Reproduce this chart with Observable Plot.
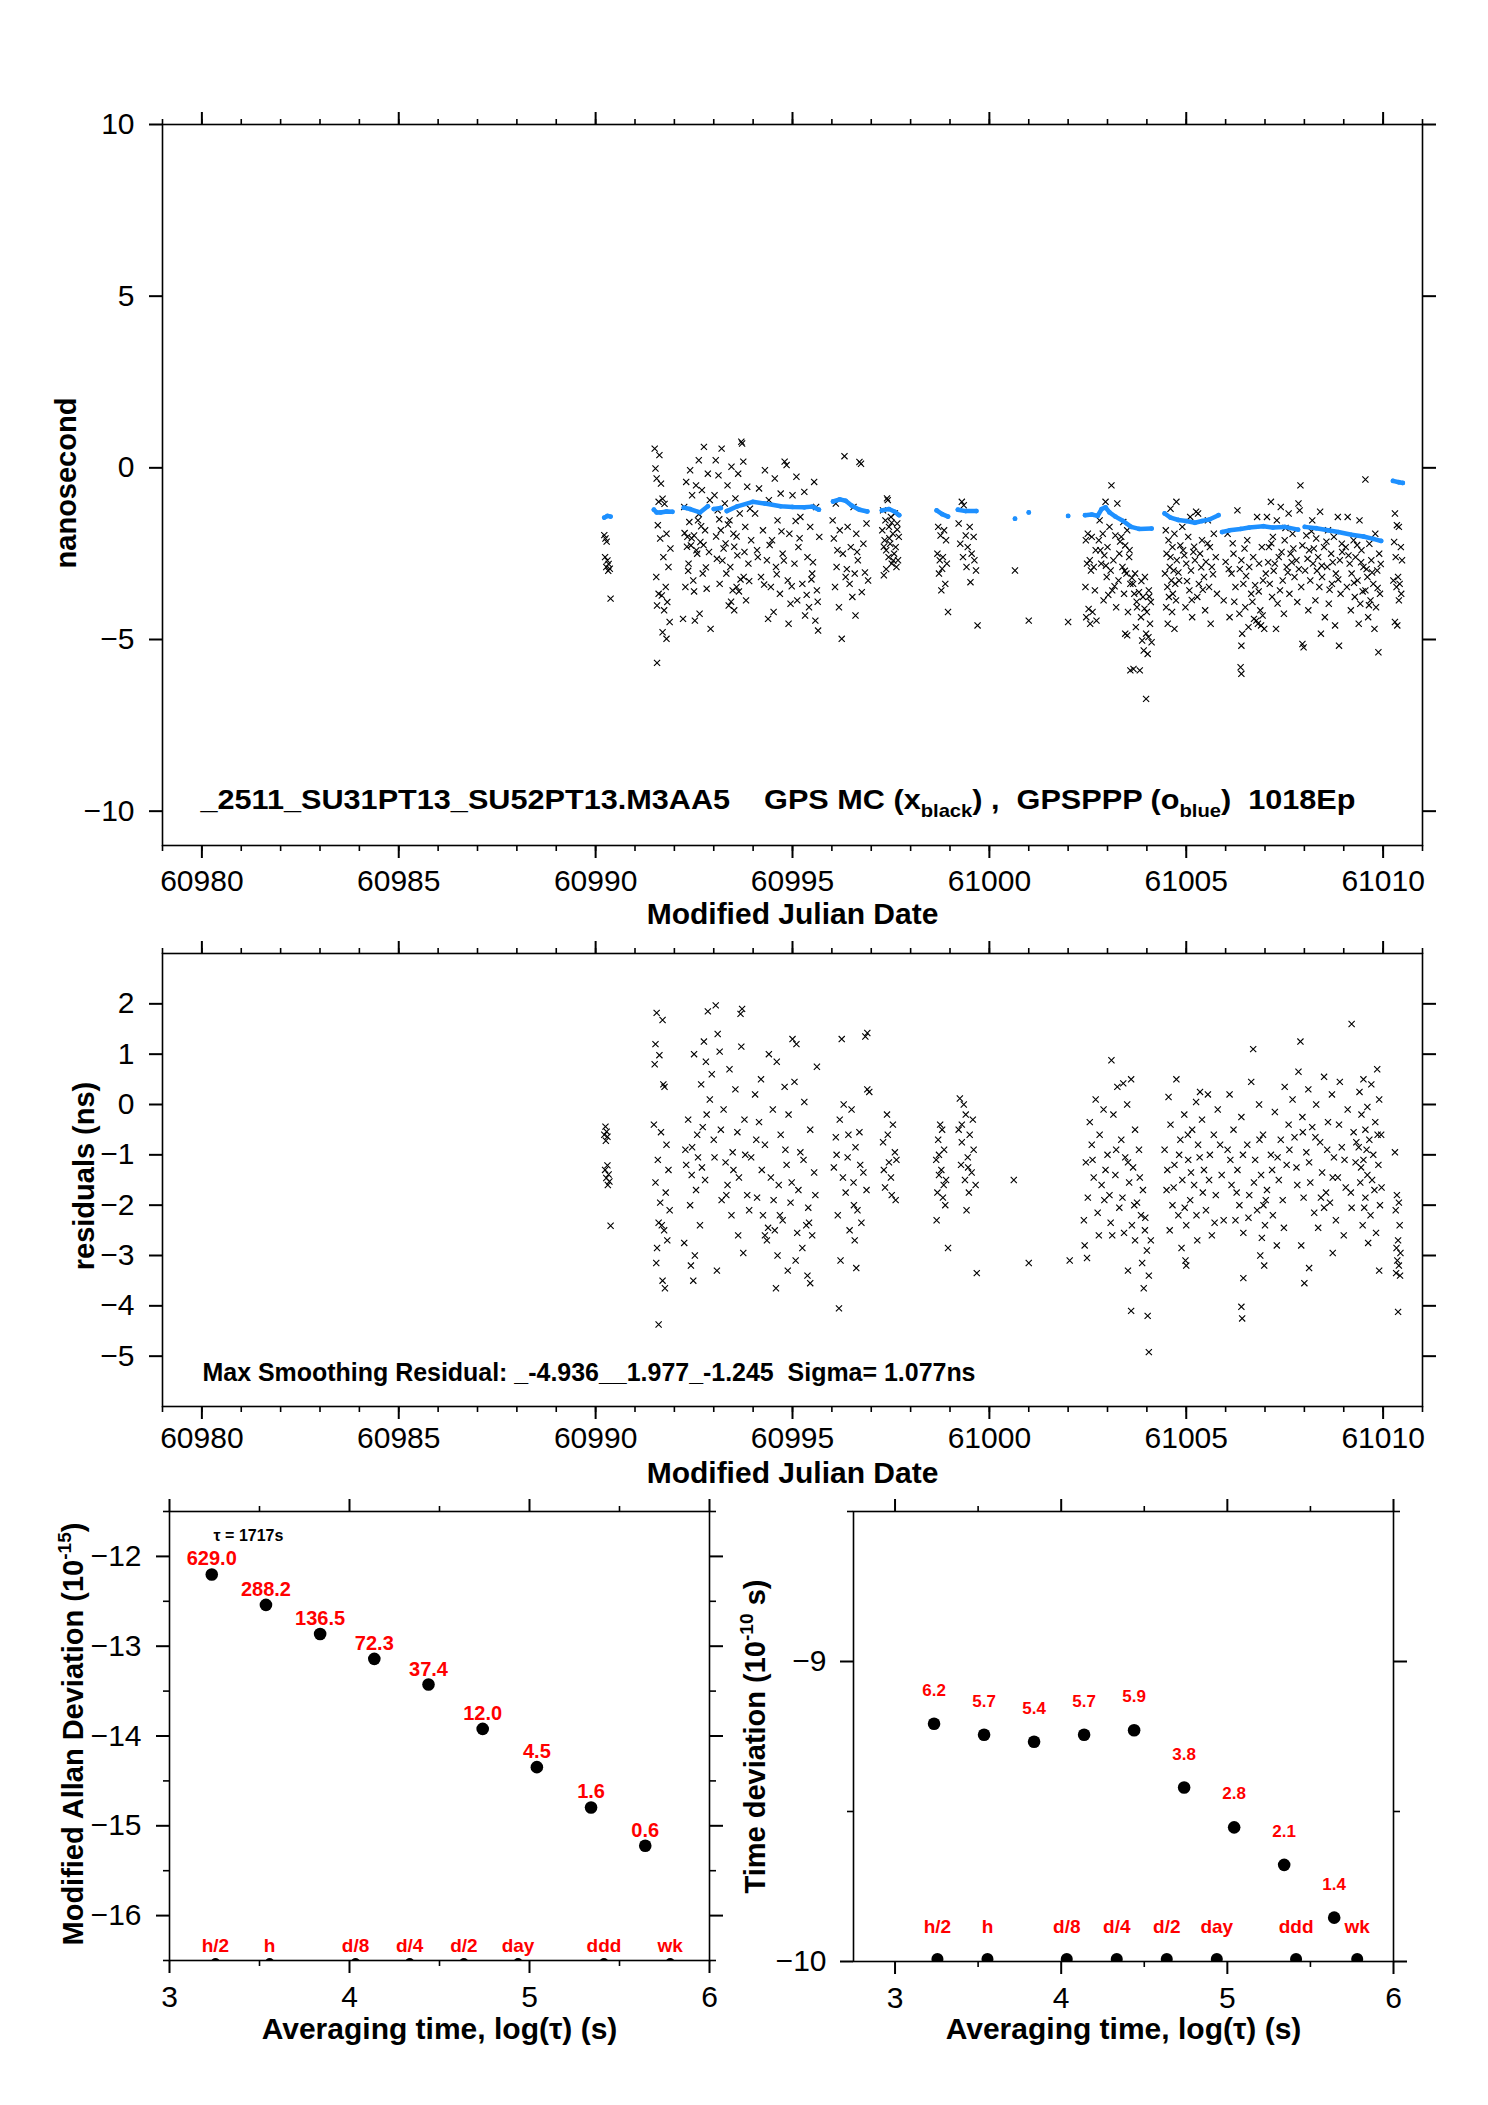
<!DOCTYPE html>
<html><head><meta charset="utf-8">
<script src="https://cdn.jsdelivr.net/npm/d3@7"></script>
<script src="https://cdn.jsdelivr.net/npm/@observablehq/plot@0.6"></script>
<style>
body{margin:0;background:#fff;}
#wrap{position:relative;width:1488px;height:2105px;background:#fff;overflow:hidden;}
.panel{position:absolute;}
</style></head><body><div id="wrap"></div>
<script>
// ---------------- DATA ----------------
const mjdMajor = [60980, 60985, 60990, 60995, 61000, 61005, 61010];
const mjdMinor = [60979,60980,60981,60982,60983,60984,60985,60986,60987,60988,60989,60990,60991,60992,60993,60994,60995,60996,60997,60998,60999,61000,61001,61002,61003,61004,61005,61006,61007,61008,61009,61010,61011];
const topYTicks = [-10, -5, 0, 5, 10];
const resYTicks = [-5, -4, -3, -2, -1, 0, 1, 2];
const logMajor = [3, 4, 5, 6];
const logMinor = [3.5, 4.5, 5.5];
const adevMajor = [-16, -15, -14, -13, -12];
const adevMinor = [-16.5, -15.5, -14.5, -13.5, -12.5, -11.5];
const tdevMajor = [-10, -9];
const tdevMinor = [-9.5, -8.5];

// GPSPPP (blue): [MJD, ns, segment]
const pppPts = [
[60990.22,-1.45,1],[60990.30,-1.40,1],[60990.38,-1.42,1],
[60991.48,-1.22,2],[60991.55,-1.30,2],[60991.65,-1.30,2],[60991.80,-1.27,2],[60991.95,-1.28,2],
[60992.24,-1.16,3],[60992.40,-1.20,3],[60992.65,-1.30,3],[60992.85,-1.12,3],
[60993.00,-1.20,4],[60993.18,-1.17,4],
[60993.33,-1.26,5],[60993.60,-1.12,5],[60993.99,-0.99,5],[60994.30,-1.04,5],[60994.70,-1.12,5],[60995.00,-1.14,5],[60995.30,-1.15,5],[60995.50,-1.13,5],[60995.67,-1.22,5],
[60996.03,-0.98,6],[60996.20,-0.92,6],[60996.35,-0.96,6],[60996.50,-1.10,6],[60996.70,-1.22,6],[60996.90,-1.27,6],
[60997.27,-1.24,7],[60997.45,-1.20,7],[60997.60,-1.28,7],[60997.71,-1.38,7],
[60998.66,-1.24,8],[60998.80,-1.35,8],[60998.95,-1.42,8],
[60999.20,-1.22,9],[60999.40,-1.26,9],[60999.67,-1.26,9],
[61000.65,-1.48,10],[61001.00,-1.30,11],[61002.00,-1.40,12],
[61002.43,-1.38,13],[61002.60,-1.36,13],[61002.75,-1.40,13],[61002.85,-1.20,13],[61002.95,-1.15,13],[61003.05,-1.30,13],[61003.20,-1.42,13],[61003.40,-1.55,13],[61003.60,-1.72,13],[61003.80,-1.78,13],[61004.12,-1.77,13],
[61004.45,-1.33,14],[61004.60,-1.45,14],[61004.80,-1.52,14],[61005.00,-1.55,14],[61005.22,-1.60,14],[61005.40,-1.55,14],[61005.60,-1.50,14],[61005.82,-1.38,14],
[61005.91,-1.87,15],[61006.10,-1.82,15],[61006.38,-1.78,15],[61006.60,-1.74,15],[61006.96,-1.70,15],[61007.20,-1.74,15],[61007.50,-1.72,15],[61007.84,-1.80,15],
[61008.01,-1.72,16],[61008.30,-1.76,16],[61008.60,-1.82,16],[61008.86,-1.87,16],[61009.20,-1.95,16],[61009.50,-2.00,16],[61009.75,-2.07,16],[61009.95,-2.13,16],
[61010.25,-0.38,17],[61010.40,-0.42,17],[61010.50,-0.44,17]
];

// GPS MC (black x): [MJD, ns]
const mcA = [[60990.22,-1.96],[60990.25,-2.06],[60990.28,-2.15],[60990.24,-2.6],[60990.3,-2.7],[60990.33,-2.8],[60990.27,-2.89],[60990.36,-2.94],[60990.32,-3.0],[60990.38,-3.81]];
const mcB = [[60991.50,0.56],[60991.62,0.37],[60991.52,-0.02],[60991.55,-0.31],[60991.66,-0.46],[60991.70,-0.90],[60991.60,-0.99],[60991.75,-1.05],[60991.58,-1.67],[60991.80,-1.92],[60991.64,-2.06],[60991.90,-2.35],[60991.72,-2.60],[60991.85,-2.89],[60991.54,-3.18],[60991.78,-3.47],[60991.60,-3.67],[60991.68,-3.72],[60991.82,-3.91],[60991.56,-4.01],[60991.74,-4.15],[60991.88,-4.49],[60991.70,-4.79],[60991.80,-4.98],[60991.56,-5.68]];
const mcC = [[60992.75,0.61],[60992.62,0.22],[60992.40,-0.07],[60992.85,-0.17],[60992.30,-0.41],[60992.55,-0.51],[60992.70,-0.65],[60992.45,-0.80],[60992.90,-0.94],[60992.25,-1.14],[60992.60,-1.53],[60992.38,-1.58],[60992.78,-1.82],[60992.50,-1.97],[60992.33,-2.01],[60992.66,-2.16],[60992.42,-2.26],[60992.88,-2.45],[60992.58,-2.50],[60992.36,-2.79],[60992.72,-3.08],[60992.48,-3.28],[60992.28,-3.47],[60992.82,-3.52],[60992.64,-4.25],[60992.22,-4.40],[60992.52,-4.45],[60992.92,-4.69]];
const mcD = [[60993.70,0.76],[60993.72,0.71],[60993.20,0.56],[60993.05,0.22],[60993.75,0.18],[60993.45,0.03],[60993.62,-0.17],[60993.12,-0.22],[60993.35,-0.51],[60993.85,-0.55],[60993.02,-0.80],[60993.55,-0.89],[60993.28,-1.04],[60993.92,-1.19],[60993.10,-1.24],[60993.66,-1.33],[60993.40,-1.53],[60993.80,-1.72],[60993.18,-1.82],[60993.50,-1.92],[60993.95,-2.11],[60993.25,-2.35],[60993.60,-2.55],[60993.08,-2.65],[60993.88,-2.79],[60993.42,-2.89],[60993.32,-3.08],[60993.76,-3.18],[60993.15,-3.38],[60993.58,-3.47],[60993.48,-3.57],[60993.82,-3.86],[60993.38,-4.01],[60993.52,-4.15]];
const mcE = [[60994.80,0.18],[60994.85,0.08],[60994.30,-0.07],[60995.10,-0.26],[60994.55,-0.31],[60995.55,-0.41],[60994.15,-0.60],[60995.30,-0.70],[60994.70,-0.75],[60995.00,-0.80],[60994.40,-0.94],[60995.60,-1.14],[60994.05,-1.33],[60995.20,-1.43],[60994.62,-1.53],[60995.45,-1.72],[60994.25,-1.82],[60994.92,-1.92],[60995.68,-2.01],[60994.48,-2.11],[60995.15,-2.31],[60994.10,-2.40],[60994.75,-2.50],[60995.38,-2.60],[60994.35,-2.69],[60995.05,-2.79],[60994.58,-2.89],[60995.50,-3.08],[60994.20,-3.18],[60994.88,-3.28],[60995.25,-3.38],[60994.45,-3.47],[60995.62,-3.57],[60994.68,-3.67],[60995.12,-3.86],[60994.95,-3.96],[60995.42,-4.06],[60994.52,-4.20],[60995.32,-4.30],[60995.58,-4.45],[60994.90,-4.54],[60995.65,-4.74]];
const mcF = [[60996.32,0.34],[60996.70,0.17],[60996.74,0.12],[60996.10,-1.04],[60996.55,-1.14],[60996.02,-1.53],[60996.88,-1.62],[60996.40,-1.72],[60996.20,-1.82],[60996.62,-1.92],[60996.05,-2.06],[60996.80,-2.21],[60996.48,-2.31],[60996.28,-2.50],[60996.66,-2.69],[60996.12,-2.89],[60996.58,-3.08],[60996.35,-3.18],[60996.92,-3.28],[60996.45,-3.38],[60996.08,-3.47],[60996.76,-3.62],[60996.52,-3.76],[60996.18,-4.06],[60996.60,-4.30],[60996.25,-4.98]];
const mcG = [[60997.40,-0.89],[60997.42,-0.94],[60997.30,-1.24],[60997.60,-1.33],[60997.50,-1.43],[60997.36,-1.53],[60997.66,-1.62],[60997.45,-1.72],[60997.28,-1.82],[60997.55,-1.92],[60997.70,-2.01],[60997.34,-2.11],[60997.48,-2.21],[60997.62,-2.31],[60997.38,-2.40],[60997.58,-2.50],[60997.44,-2.60],[60997.68,-2.69],[60997.52,-2.79],[60997.64,-2.89],[60997.32,-3.13]];
const mcH = [[60998.70,-1.72],[60998.85,-1.82],[60998.76,-1.97],[60998.90,-2.11],[60998.68,-2.50],[60998.82,-2.60],[60998.74,-2.69],[60998.92,-2.79],[60998.80,-2.94],[60998.72,-3.08],[60998.88,-3.38],[60998.78,-3.57],[60998.95,-4.20]];
const mcI = [[60999.30,-0.99],[60999.35,-1.09],[60999.22,-1.62],[60999.50,-1.72],[60999.40,-1.97],[60999.60,-2.01],[60999.26,-2.21],[60999.45,-2.31],[60999.55,-2.50],[60999.33,-2.60],[60999.62,-2.69],[60999.42,-2.89],[60999.66,-2.99],[60999.52,-3.33],[60999.70,-4.59]];
const mcSingles = [[61000.65,-2.99],[61001.0,-4.45],[61002.0,-4.49]];
const mcJ = [[61002.50,-1.92],[61002.60,-2.01],[61002.45,-2.11],[61002.70,-2.40],[61002.55,-2.69],[61002.48,-2.79],[61002.65,-2.89],[61002.58,-2.99],[61002.44,-3.47],[61002.68,-3.57],[61002.52,-4.11],[61002.62,-4.20],[61002.46,-4.35],[61002.72,-4.45],[61002.56,-4.54]];
const mcK = [[61003.10,-0.51],[61002.95,-0.99],[61003.25,-1.04],[61002.80,-1.53],[61003.40,-1.58],[61003.05,-1.72],[61003.50,-1.82],[61002.88,-1.92],[61003.20,-1.97],[61003.35,-2.01],[61002.78,-2.11],[61003.45,-2.26],[61003.00,-2.31],[61003.30,-2.50],[61002.92,-2.55],[61003.55,-2.60],[61003.15,-2.69],[61002.84,-2.79],[61003.38,-2.89],[61003.08,-2.99],[61003.48,-3.08],[61002.98,-3.18],[61003.28,-3.28],[61003.58,-3.38],[61003.12,-3.57],[61003.42,-3.67],[61002.90,-3.86],[61003.22,-4.06],[61003.52,-4.20],[61003.45,-4.83],[61003.50,-4.88],[61003.58,-5.90]];
const mcL = [[61003.70,-3.08],[61003.95,-3.18],[61003.65,-3.38],[61004.05,-3.57],[61003.80,-3.62],[61003.68,-3.67],[61003.90,-3.76],[61004.10,-3.91],[61003.75,-4.06],[61004.00,-4.20],[61003.85,-4.35],[61004.08,-4.54],[61003.72,-4.64],[61003.98,-4.83],[61004.04,-4.93],[61003.88,-5.03],[61004.12,-5.08],[61003.92,-5.32],[61004.02,-5.42],[61003.66,-5.86],[61003.82,-5.90],[61003.98,-6.73]];
const mcM = [[61004.75,-0.99],[61004.60,-1.19],[61004.48,-1.82],[61004.70,-1.92],[61004.55,-2.11],[61004.65,-2.31],[61004.50,-2.50],[61004.76,-2.69],[61004.58,-2.89],[61004.68,-2.99],[61004.46,-3.08],[61004.62,-3.28],[61004.72,-3.38],[61004.52,-3.47],[61004.66,-3.67],[61004.56,-3.76],[61004.74,-3.86],[61004.49,-4.06],[61004.64,-4.20],[61004.53,-4.54],[61004.70,-4.69]];
const mcN = [[61005.25,-1.28],[61005.30,-1.33],[61005.10,-1.43],[61005.55,-1.53],[61004.90,-1.72],[61005.70,-1.92],[61005.05,-2.01],[61005.40,-2.11],[61004.85,-2.26],[61005.60,-2.31],[61005.18,-2.45],[61005.35,-2.50],[61004.95,-2.55],[61005.75,-2.60],[61005.22,-2.69],[61005.50,-2.74],[61005.00,-2.79],[61005.65,-2.89],[61005.12,-2.99],[61005.45,-3.18],[61004.82,-3.28],[61005.32,-3.38],[61005.58,-3.47],[61005.08,-3.57],[61005.78,-3.67],[61005.28,-3.76],[61004.98,-4.06],[61005.48,-4.15],[61005.15,-4.35],[61005.62,-4.54]];
const mcO = [[61006.30,-1.24],[61006.80,-1.43],[61006.05,-1.92],[61006.55,-2.11],[61006.92,-2.31],[61006.20,-2.50],[61006.70,-2.60],[61006.40,-2.69],[61006.00,-2.74],[61006.85,-2.79],[61006.60,-2.89],[61006.15,-3.08],[61006.95,-3.28],[61006.45,-3.38],[61006.75,-3.42],[61006.25,-3.47],[61006.65,-3.67],[61005.95,-3.86],[61006.50,-4.06],[61006.88,-4.15],[61006.35,-4.25],[61006.10,-4.35],[61006.78,-4.45],[61006.82,-4.54],[61006.90,-4.59],[61006.58,-4.64],[61006.98,-4.69],[61006.42,-4.83],[61006.40,-5.18],[61006.38,-5.81],[61006.40,-6.00]];
const mcP = [[61007.90,-0.51],[61007.15,-0.99],[61007.85,-1.04],[61007.40,-1.14],[61007.88,-1.24],[61007.60,-1.33],[61007.05,-1.43],[61007.30,-1.53],[61007.70,-1.92],[61007.20,-2.01],[61007.50,-2.11],[61007.95,-2.26],[61007.10,-2.31],[61007.65,-2.50],[61007.35,-2.60],[61007.80,-2.69],[61007.25,-2.79],[61007.55,-2.89],[61007.02,-3.08],[61007.75,-3.18],[61007.45,-3.28],[61007.12,-3.38],[61007.92,-3.47],[61007.38,-3.57],[61007.62,-3.67],[61007.18,-3.76],[61007.82,-3.91],[61007.48,-4.25],[61007.28,-4.69],[61007.95,-5.13],[61007.98,-5.23]];
const mcQ = [[61008.40,-1.28],[61008.85,-1.43],[61008.20,-1.53],[61008.60,-1.82],[61008.05,-1.97],[61008.75,-2.01],[61008.30,-2.06],[61008.95,-2.21],[61008.50,-2.31],[61008.12,-2.40],[61008.68,-2.50],[61008.35,-2.60],[61008.90,-2.69],[61008.22,-2.79],[61008.58,-2.89],[61008.02,-2.99],[61008.80,-3.08],[61008.45,-3.18],[61008.15,-3.28],[61008.70,-3.38],[61008.38,-3.47],[61008.92,-3.67],[61008.28,-3.86],[61008.62,-3.96],[61008.10,-4.15],[61008.52,-4.35],[61008.78,-4.59],[61008.42,-4.83],[61008.88,-5.18]];
const mcR = [[61009.55,-0.34],[61009.10,-1.43],[61009.40,-1.53],[61009.80,-1.92],[61009.25,-2.11],[61009.65,-2.21],[61009.05,-2.31],[61009.45,-2.40],[61009.90,-2.50],[61009.30,-2.60],[61009.70,-2.69],[61009.15,-2.79],[61009.50,-2.89],[61009.85,-2.99],[61009.20,-3.08],[61009.60,-3.18],[61009.35,-3.28],[61009.75,-3.38],[61009.08,-3.47],[61009.55,-3.57],[61009.92,-3.67],[61009.28,-3.76],[61009.68,-3.86],[61009.42,-3.96],[61009.82,-4.06],[61009.18,-4.15],[61009.62,-4.35],[61009.38,-4.54],[61009.78,-4.69],[61009.88,-5.37]];
const mcS = [[61010.30,-1.33],[61010.35,-1.67],[61010.40,-1.72],[61010.28,-2.16],[61010.45,-2.31],[61010.32,-2.60],[61010.48,-2.69],[61010.38,-3.18],[61010.26,-3.28],[61010.42,-3.38],[61010.34,-3.47],[61010.46,-3.67],[61010.40,-3.86],[61010.30,-4.49],[61010.36,-4.59]];
const mcExtra = [[60992.32,-2.3],[60992.44,-2.05],[60992.56,-2.4],[60992.68,-1.7],[60992.8,-2.9],[60992.26,-1.9],[60992.5,-3.6],[60992.74,-2.25],[60992.35,-3.0],[60992.62,-1.35],
[60993.06,-2.0],[60993.22,-2.7],[60993.36,-1.65],[60993.52,-2.3],[60993.64,-3.6],[60993.78,-2.45],[60993.9,-3.3],[60993.44,-3.9],[60993.3,-2.2],[60993.14,-1.5],[60993.68,-3.25],[60993.58,-2.0],
[60994.12,-2.6],[60994.28,-3.4],[60994.42,-2.25],[60994.6,-3.1],[60994.78,-2.7],[60994.98,-3.45],[60995.18,-2.05],[60995.36,-3.7],[60995.52,-2.75],[60995.64,-3.9],[60994.38,-4.4],[60994.72,-1.85],[60995.08,-1.55],[60995.48,-3.25],
[60996.14,-2.4],[60996.38,-2.95],[60996.64,-2.45],[60996.84,-3.05],[60997.32,-2.3],[60997.46,-2.05],[60997.56,-2.7],[60997.66,-1.8],[60997.38,-2.95],[60997.52,-1.6],
[61002.82,-2.4],[61002.96,-2.85],[61003.18,-3.45],[61003.32,-2.15],[61003.44,-3.0],[61003.56,-2.4],[61003.74,-3.9],[61003.86,-3.3],[61003.94,-4.1],[61004.06,-3.75],[61003.02,-3.7],[61003.62,-3.2],
[61004.6,-2.6],[61004.8,-3.05],[61005.02,-3.3],[61005.2,-2.3],[61005.38,-2.9],[61005.54,-2.2],[61005.68,-3.1],[61005.14,-3.85],[61004.92,-2.4],[61005.42,-3.55],
[61006.08,-2.95],[61006.22,-3.9],[61006.36,-2.95],[61006.52,-3.15],[61006.68,-3.9],[61006.84,-3.6],[61006.94,-4.3],[61006.72,-4.4],[61006.48,-2.35],[61006.18,-2.2],
[61007.08,-2.75],[61007.22,-3.0],[61007.42,-2.45],[61007.58,-3.05],[61007.72,-2.35],[61007.86,-2.95],[61007.32,-3.95],[61007.68,-2.75],[61007.52,-1.75],[61007.16,-2.2],
[61008.08,-2.65],[61008.24,-2.35],[61008.44,-2.85],[61008.56,-2.15],[61008.72,-2.75],[61008.86,-3.25],[61008.32,-3.0],[61008.64,-3.55],[61008.18,-1.85],[61008.96,-2.45],
[61009.12,-2.55],[61009.26,-3.35],[61009.44,-2.75],[61009.58,-2.95],[61009.72,-3.05],[61009.86,-3.5],[61009.34,-2.25],[61009.64,-4.0],[61009.94,-2.8],[61009.48,-3.6]];

// Smoothing residuals (black x): [MJD, ns]
const rsA = [[60990.25,-0.44],[60990.28,-0.54],[60990.22,-0.6],[60990.3,-0.64],[60990.26,-0.72],[60990.3,-1.21],[60990.24,-1.3],[60990.33,-1.39],[60990.27,-1.46],[60990.35,-1.53],[60990.31,-1.6],[60990.38,-2.41]];
const rsB = [[60991.55,1.82],[60991.7,1.68],[60991.52,1.2],[60991.62,0.98],[60991.5,0.8],[60991.72,0.4],[60991.75,0.35],[60991.48,-0.4],[60991.66,-0.55],[60991.8,-0.8],[60991.58,-1.1],[60991.85,-1.3],[60991.52,-1.55],[60991.78,-1.75],[60991.64,-1.95],[60991.88,-2.1],[60991.6,-2.35],[60991.68,-2.4],[60991.74,-2.5],[60991.82,-2.7],[60991.56,-2.85],[60991.54,-3.15],[60991.7,-3.5],[60991.76,-3.65],[60991.6,-4.37]];
const rsC = [[60992.85,1.85],[60993.05,1.97],[60993.68,1.8],[60993.72,1.9],[60993.1,1.4],[60992.75,1.25],[60993.7,1.15],[60993.15,1.05],[60992.5,1.0],[60992.8,0.85],[60993.4,0.7],[60992.95,0.6],[60992.68,0.4],[60993.55,0.3],[60992.9,0.1],[60993.25,-0.1],[60992.35,-0.3],[60992.72,-0.45],[60993.6,-0.55],[60993.0,-0.7],[60992.45,-0.85],[60993.8,-1.0],[60992.6,-1.05],[60993.3,-1.15],[60992.3,-1.2],[60993.5,-1.3],[60992.78,-1.5],[60993.35,-1.6],[60992.55,-1.7],[60993.85,-1.8],[60993.2,-1.9],[60992.4,-2.0],[60993.45,-2.2],[60992.65,-2.4],[60993.62,-2.6],[60992.25,-2.75],[60993.75,-2.95],[60992.52,-3.0],[60992.42,-3.2],[60993.08,-3.3],[60992.48,-3.5]];
const rsD = [[60995.0,1.3],[60995.1,1.2],[60994.4,1.0],[60994.6,0.85],[60995.62,0.75],[60994.2,0.5],[60995.05,0.45],[60994.8,0.35],[60994.05,0.2],[60995.3,0.05],[60994.5,-0.1],[60994.9,-0.2],[60994.15,-0.35],[60995.45,-0.5],[60994.7,-0.6],[60994.3,-0.8],[60995.2,-0.95],[60993.95,-1.05],[60994.85,-1.2],[60995.55,-1.35],[60994.45,-1.45],[60994.65,-1.6],[60995.15,-1.7],[60994.1,-1.85],[60994.95,-1.95],[60995.4,-2.05],[60994.25,-2.2],[60994.75,-2.3],[60995.35,-2.4],[60994.55,-2.5],[60995.5,-2.6],[60994.35,-2.7],[60995.25,-2.85],[60994.62,-3.0],[60995.08,-3.1],[60994.88,-3.3],[60995.38,-3.4],[60995.45,-3.55],[60994.58,-3.65]];
const rsE = [[60996.9,1.42],[60996.85,1.35],[60996.25,1.3],[60996.9,0.3],[60996.95,0.25],[60996.3,0.0],[60996.5,-0.1],[60997.4,-0.2],[60996.2,-0.3],[60997.55,-0.4],[60996.7,-0.55],[60996.1,-0.65],[60997.3,-0.75],[60996.6,-0.85],[60997.6,-0.95],[60996.4,-1.05],[60997.45,-1.15],[60996.05,-1.25],[60996.8,-1.35],[60997.5,-1.45],[60996.55,-1.55],[60997.35,-1.65],[60996.35,-1.75],[60997.62,-1.9],[60996.65,-2.1],[60996.15,-2.2],[60996.75,-2.35],[60996.45,-2.5],[60996.58,-2.7],[60996.22,-3.1],[60996.62,-3.25],[60996.18,-4.05]];
const rsF = [[60998.75,-0.4],[60998.8,-0.5],[60998.7,-0.7],[60998.85,-0.9],[60998.65,-1.1],[60998.78,-1.3],[60998.72,-1.4],[60998.9,-1.5],[60998.68,-1.75],[60998.82,-1.85],[60998.88,-2.0],[60998.66,-2.3],[60998.95,-2.85]];
const rsG = [[60999.25,0.12],[60999.35,0.0],[60999.4,-0.2],[60999.22,-0.5],[60999.5,-0.6],[60999.3,-0.75],[60999.6,-0.9],[60999.45,-1.05],[60999.28,-1.2],[60999.55,-1.35],[60999.38,-1.5],[60999.65,-1.6],[60999.48,-1.75],[60999.42,-2.1],[60999.68,-3.35]];
const rsSingles = [[61000.62,-1.5],[61001.0,-3.15],[61002.04,-3.1]];
const rsH = [[61003.1,0.88],[61003.6,0.5],[61003.4,0.42],[61003.25,0.35],[61002.7,0.1],[61003.5,0.0],[61002.9,-0.1],[61003.15,-0.2],[61002.55,-0.35],[61003.7,-0.5],[61002.8,-0.6],[61003.35,-0.7],[61002.6,-0.8],[61003.8,-0.9],[61003.0,-1.0],[61003.45,-1.05],[61002.45,-1.15],[61003.65,-1.25],[61002.95,-1.3],[61003.2,-1.4],[61002.65,-1.45],[61003.55,-1.55],[61002.85,-1.6],[61003.9,-1.7],[61003.05,-1.8],[61002.5,-1.85],[61003.75,-1.95],[61003.3,-2.05],[61002.75,-2.15],[61003.85,-2.2],[61002.4,-2.3],[61003.62,-2.4],[61003.95,-2.5],[61003.12,-2.6],[61003.7,-2.7],[61002.42,-2.8],[61004.0,-2.9],[61002.48,-3.05],[61003.88,-3.15],[61003.52,-3.3],[61004.05,-3.4],[61003.92,-3.65],[61003.6,-4.1],[61004.02,-4.2],[61004.05,-4.92]];
const rsI = [[61004.75,0.5],[61005.35,0.25],[61005.55,0.2],[61004.55,0.15],[61005.25,0.05],[61005.8,-0.1],[61004.95,-0.2],[61005.4,-0.3],[61004.6,-0.4],[61005.15,-0.5],[61005.7,-0.6],[61004.85,-0.7],[61005.3,-0.8],[61004.45,-0.9],[61005.6,-1.0],[61005.05,-1.1],[61004.7,-1.2],[61005.45,-1.3],[61005.9,-1.4],[61004.9,-1.5],[61005.2,-1.6],[61004.5,-1.7],[61005.75,-1.8],[61005.1,-1.9],[61004.65,-2.0],[61005.5,-2.1],[61004.8,-2.2],[61005.95,-2.3],[61005.0,-2.4],[61004.58,-2.5],[61005.65,-2.6],[61005.28,-2.7],[61004.88,-2.85],[61004.98,-3.1],[61005.0,-3.2]];
const rsJ = [[61006.7,1.1],[61006.65,0.45],[61007.5,0.35],[61006.1,0.2],[61006.85,0.0],[61007.25,-0.15],[61006.4,-0.25],[61007.6,-0.4],[61006.2,-0.5],[61006.95,-0.6],[61007.4,-0.7],[61006.55,-0.8],[61006.05,-0.9],[61007.15,-1.0],[61006.75,-1.1],[61007.55,-1.2],[61006.3,-1.3],[61006.9,-1.4],[61007.35,-1.5],[61006.15,-1.6],[61007.05,-1.7],[61006.6,-1.8],[61007.45,-1.9],[61006.35,-2.0],[61006.8,-2.1],[61007.2,-2.2],[61006.25,-2.3],[61007.0,-2.4],[61006.45,-2.55],[61006.92,-2.65],[61007.3,-2.8],[61006.88,-3.0],[61006.98,-3.2],[61006.45,-3.45],[61006.4,-4.02],[61006.42,-4.25]];
const rsK = [[61007.9,1.25],[61007.85,0.65],[61008.5,0.55],[61008.9,0.45],[61008.1,0.3],[61008.7,0.2],[61007.7,0.1],[61008.3,0.0],[61009.1,-0.1],[61007.95,-0.25],[61008.6,-0.35],[61008.2,-0.45],[61009.25,-0.55],[61007.75,-0.65],[61008.4,-0.75],[61008.95,-0.85],[61008.05,-0.95],[61008.75,-1.05],[61009.3,-1.15],[61007.8,-1.25],[61008.45,-1.35],[61008.85,-1.45],[61008.15,-1.55],[61009.05,-1.65],[61008.55,-1.75],[61007.98,-1.85],[61008.65,-1.95],[61009.2,-2.05],[61008.25,-2.15],[61008.8,-2.3],[61008.35,-2.45],[61009.0,-2.6],[61007.92,-2.8],[61008.72,-2.95],[61008.12,-3.25],[61008.0,-3.55]];
const rsL = [[61009.2,1.6],[61009.85,0.7],[61009.5,0.5],[61009.7,0.4],[61009.4,0.25],[61009.9,0.1],[61009.6,-0.05],[61009.45,-0.2],[61009.8,-0.35],[61009.55,-0.5],[61009.95,-0.6],[61009.65,-0.7],[61009.38,-0.85],[61009.75,-1.0],[61009.5,-1.1],[61009.88,-1.2],[61009.6,-1.4],[61009.42,-1.55],[61009.78,-1.7],[61009.55,-1.85],[61009.92,-2.0],[61009.68,-2.2],[61009.48,-2.4],[61009.82,-2.55],[61009.62,-2.75],[61009.9,-3.3]];
const rsM = [[61010.3,-0.95],[61010.35,-1.8],[61010.4,-1.95],[61010.32,-2.1],[61010.42,-2.4],[61010.38,-2.7],[61010.34,-2.85],[61010.44,-2.95],[61010.36,-3.1],[61010.4,-3.2],[61010.33,-3.35],[61010.43,-3.4],[61010.38,-4.12]];
const rsExtra = [[60992.28,-0.9],[60992.44,-1.4],[60992.58,-0.6],[60992.7,-1.25],[60992.82,-0.2],[60993.02,-1.05],[60993.18,-0.5],[60993.32,-1.8],[60993.48,-0.95],[60993.64,-1.45],[60993.78,-0.3],[60993.9,-2.1],
[60994.08,-0.7],[60994.22,-1.3],[60994.38,-2.45],[60994.52,-1.9],[60994.68,-2.2],[60994.82,-0.9],[60994.98,-1.55],[60995.12,-2.55],[60995.28,-1.1],[60995.42,-2.35],[60995.58,-1.8],[60994.3,-2.6],
[60996.12,-1.0],[60996.28,-1.45],[60996.42,-0.6],[60996.56,-2.0],[60996.72,-1.2],[60996.88,-1.7],[60997.32,-1.3],[60997.42,-0.6],[60997.52,-1.8],[60997.64,-1.1],
[60998.72,-1.0],[60998.84,-1.6],[60999.3,-0.4],[60999.46,-1.25],[60999.58,-0.3],
[61002.62,-1.1],[61002.78,-2.6],[61002.92,-1.9],[61003.08,-2.35],[61003.22,-0.9],[61003.38,-1.85],[61003.52,-1.15],[61003.68,-2.0],[61003.82,-1.45],[61003.96,-2.25],[61004.1,-2.7],[61003.42,-2.55],
[61004.52,-1.3],[61004.68,-1.65],[61004.82,-1.0],[61004.96,-2.05],[61005.12,-1.35],[61005.26,-2.2],[61005.42,-1.75],[61005.58,-1.5],[61005.72,-2.35],[61005.86,-0.8],[61005.04,-0.6],[61005.34,-1.05],
[61006.12,-1.1],[61006.28,-1.75],[61006.44,-1.0],[61006.58,-2.25],[61006.72,-1.55],[61006.86,-0.7],[61007.02,-1.9],[61007.18,-1.3],[61007.32,-1.05],[61007.48,-2.45],[61007.62,-0.9],[61006.96,-2.0],
[61007.82,-1.6],[61007.96,-0.55],[61008.12,-1.15],[61008.28,-0.65],[61008.42,-1.85],[61008.58,-0.9],[61008.72,-1.45],[61008.88,-0.4],[61009.02,-1.1],[61009.18,-1.75],[61009.32,-0.75],[61008.5,-2.05],
[61009.44,-1.25],[61009.58,-0.9],[61009.72,-1.5],[61009.86,-0.6],[61009.96,-1.65],[61009.52,-2.05]];

// Stability
const tauSeconds = [1717, 3434, 6868, 13736, 27472, 54944, 109888, 219776, 439552];
const mdevValues = [629.0, 288.2, 136.5, 72.3, 37.4, 12.0, 4.5, 1.6, 0.6];   // x 1e-15
const tdevValues = [6.2, 5.7, 5.4, 5.7, 5.9, 3.8, 2.8, 2.1, 1.4];             // x 1e-10 s
const markNames = ["h/2", "h", "d/8", "d/4", "d/2", "day", "ddd", "wk"];
const markSeconds = [1800, 3600, 10800, 21600, 43200, 86400, 259200, 604800];

const topNote = "_2511_SU31PT13_SU52PT13.M3AA5    GPS MC (x_{black}) ,  GPSPPP (o_{blue})  1018Ep";
const resNote = "Max Smoothing Residual: _-4.936__1.977_-1.245  Sigma= 1.077ns";

// ---------------- BUILD ----------------
const mcPts = [].concat(mcA, mcB, mcC, mcD, mcE, mcF, mcG, mcH, mcI, mcSingles, mcJ, mcK, mcL, mcM, mcN, mcO, mcP, mcQ, mcR, mcS, mcExtra);
const rsPts = [].concat(rsA, rsB, rsC, rsD, rsE, rsF, rsG, rsSingles, rsH, rsI, rsJ, rsK, rsL, rsM, rsExtra);
const mdev = tauSeconds.map((t, i) => ({x: Math.log10(t), y: Math.log10(mdevValues[i]) - 15, label: mdevValues[i].toFixed(1)}));
const tdev = tauSeconds.map((t, i) => ({x: Math.log10(t), y: Math.log10(tdevValues[i]) - 10, label: tdevValues[i].toFixed(1)}));
const marks = markNames.map((n, i) => ({x: Math.log10(markSeconds[i]), name: n}));

const BLUE = "#1e90ff", RED = "#ff0000";
const FONT = "'Liberation Sans', Arial, Helvetica, sans-serif";
const style = {fontFamily: FONT, fontSize: "30px", color: "black", background: "none", overflow: "visible"};
const blank = () => "";

function xAxes(major, minor, pad) {
  return [
    Plot.axisX({anchor: "bottom", ticks: major, tickSize: 13, tickPadding: pad, tickFormat: "d", label: null, strokeWidth: 2}),
    Plot.axisX({anchor: "bottom", ticks: minor, tickSize: 6, tickFormat: blank, label: null, strokeWidth: 1.6}),
    Plot.axisX({anchor: "top", ticks: major, tickSize: 13, tickFormat: blank, label: null, strokeWidth: 2}),
    Plot.axisX({anchor: "top", ticks: minor, tickSize: 6, tickFormat: blank, label: null, strokeWidth: 1.6})
  ];
}
function yAxes(major, minor, pad) {
  const a = [
    Plot.axisY({anchor: "left", ticks: major, tickSize: 13, tickPadding: pad, tickFormat: "d", label: null, strokeWidth: 2}),
    Plot.axisY({anchor: "right", ticks: major, tickSize: 13, tickFormat: blank, label: null, strokeWidth: 2})
  ];
  if (minor.length) {
    a.push(Plot.axisY({anchor: "left", ticks: minor, tickSize: 6, tickFormat: blank, label: null, strokeWidth: 1.6}));
    a.push(Plot.axisY({anchor: "right", ticks: minor, tickSize: 6, tickFormat: blank, label: null, strokeWidth: 1.6}));
  }
  return a;
}
const bold = (o) => Object.assign({text: d => d, fontWeight: "bold", textAnchor: "middle"}, o);

const wrap = document.getElementById("wrap");
function place(svg, left, top) {
  const div = document.createElement("div");
  div.className = "panel"; div.style.left = left + "px"; div.style.top = top + "px";
  div.appendChild(svg); wrap.appendChild(div);
  richText(svg);
}
function richText(svg) {
  d3.select(svg).selectAll("text").each(function() {
    const el = this, s = el.textContent;
    if (!/[\^_]\{/.test(s)) return;
    const fs = parseFloat(getComputedStyle(el).fontSize) || 29;
    const parts = []; const re = /([\^_])\{([^}]*)\}/g; let m, last = 0;
    while ((m = re.exec(s))) {
      if (m.index > last) parts.push({t: s.slice(last, m.index), k: ""});
      parts.push({t: m[2], k: m[1]}); last = re.lastIndex;
    }
    if (last < s.length) parts.push({t: s.slice(last), k: ""});
    el.textContent = "";
    let shift = 0;
    for (const p of parts) {
      const ts = d3.select(el).append("tspan").text(p.t);
      const target = p.k === "^" ? -0.42 * fs : p.k === "_" ? 0.28 * fs : 0;
      if (target !== shift) ts.attr("dy", target - shift);
      shift = target;
      if (p.k) ts.attr("font-size", 0.66 * fs);
    }
  });
}
function fitText(svg, startsWith, len) {
  d3.select(svg).selectAll("text").filter(function() { return this.textContent.startsWith(startsWith); })
    .attr("textLength", len).attr("lengthAdjust", "spacingAndGlyphs");
}

// Top panel: clock offsets
const topSvg = Plot.plot({
  width: 1488, height: 945, marginTop: 124, marginLeft: 162, marginRight: 66, marginBottom: 100,
  x: {domain: [60979, 61011]}, y: {domain: [-11, 10]}, style,
  marks: [
    ...xAxes(mjdMajor, mjdMinor, 11),
    ...yAxes(topYTicks, [], 15),
    Plot.frame({strokeWidth: 1.6}),
    Plot.dot(mcPts, {x: d => d[0], y: d => d[1], symbol: "times", r: 2.9, stroke: "black", strokeWidth: 1.1}),
    Plot.line(pppPts, {x: d => d[0], y: d => d[1], z: d => d[2], stroke: BLUE, strokeWidth: 4.5}),
    Plot.dot(pppPts, {x: d => d[0], y: d => d[1], r: 2.4, fill: BLUE}),
    Plot.text([topNote], bold({frameAnchor: "bottom-left", dx: 38, dy: -45, textAnchor: "start", lineAnchor: "middle", fontSize: 28})),
    Plot.text(["Modified Julian Date"], bold({frameAnchor: "bottom", dy: 69, lineAnchor: "middle", fontSize: 30})),
    Plot.text(["nanosecond"], bold({frameAnchor: "left", dx: -96, dy: -2, rotate: -90, lineAnchor: "middle", fontSize: 29}))
  ]
});
place(topSvg, 0, 0);
fitText(topSvg, "_2511", 1155);

// Middle panel: residuals
const resSvg = Plot.plot({
  width: 1488, height: 560, marginTop: 8, marginLeft: 162, marginRight: 66, marginBottom: 99,
  x: {domain: [60979, 61011]}, y: {domain: [-6, 3]}, style,
  marks: [
    ...xAxes(mjdMajor, mjdMinor, 7),
    ...yAxes(resYTicks, [], 15),
    Plot.frame({strokeWidth: 1.6}),
    Plot.dot(rsPts, {x: d => d[0], y: d => d[1], symbol: "times", r: 2.9, stroke: "black", strokeWidth: 1.1}),
    Plot.text([resNote], bold({frameAnchor: "bottom-left", dx: 40, dy: -34, textAnchor: "start", lineAnchor: "middle", fontSize: 25})),
    Plot.text(["Modified Julian Date"], bold({frameAnchor: "bottom", dy: 67, lineAnchor: "middle", fontSize: 30})),
    Plot.text(["residuals (ns)"], bold({frameAnchor: "left", dx: -78, dy: -4, rotate: -90, lineAnchor: "middle", fontSize: 29}))
  ]
});
place(resSvg, 0, 945);
fitText(resSvg, "Max Smoothing", 773);

// Bottom-left: Modified Allan deviation
const adevSvg = Plot.plot({
  width: 744, height: 645, marginTop: 51, marginLeft: 169, marginRight: 35, marginBottom: 145,
  x: {domain: [3, 6]}, y: {domain: [-16.5, -11.5]}, style,
  marks: [
    ...xAxes(logMajor, logMinor, 12),
    ...yAxes(adevMajor, adevMinor, 15),
    Plot.frame({strokeWidth: 1.6}),
    Plot.dot(mdev, {x: "x", y: "y", r: 6.3, fill: "black"}),
    Plot.text(mdev, {x: "x", y: "y", text: "label", dy: -9, lineAnchor: "bottom", fill: RED, fontWeight: "bold", fontSize: 20}),
    Plot.dot(marks, {x: "x", y: () => -16.5, dy: 2, r: 4.5, fill: "black", clip: true}),
    Plot.text(marks, {x: "x", y: () => -16.5, text: "name", dy: -9, lineAnchor: "bottom", fill: RED, fontWeight: "bold", fontSize: 19}),
    Plot.text(["τ = 1717s"], bold({frameAnchor: "top-left", dx: 44, dy: 24, textAnchor: "start", lineAnchor: "middle", fontSize: 16})),
    Plot.text(["Averaging time, log(τ) (s)"], bold({frameAnchor: "bottom", dy: 69, lineAnchor: "middle", fontSize: 30})),
    Plot.text(["Modified Allan Deviation (10^{-15})"], bold({frameAnchor: "left", dx: -96, dy: -2, rotate: -90, lineAnchor: "middle", fontSize: 29}))
  ]
});
place(adevSvg, 0, 1460);

// Bottom-right: Time deviation
const tdevSvg = Plot.plot({
  width: 744, height: 645, marginTop: 51, marginLeft: 109, marginRight: 95, marginBottom: 144,
  x: {domain: [2.75, 6]}, y: {domain: [-10, -8.5]}, style,
  marks: [
    ...xAxes(logMajor, logMinor, 12),
    ...yAxes(tdevMajor, tdevMinor, 14),
    Plot.frame({strokeWidth: 1.6}),
    Plot.dot(tdev, {x: "x", y: "y", r: 6.3, fill: "black"}),
    Plot.text(tdev, {x: "x", y: "y", text: "label", dy: -28, lineAnchor: "bottom", fill: RED, fontWeight: "bold", fontSize: 17}),
    Plot.dot(marks, {x: "x", y: () => -10, dy: -2.5, r: 6, fill: "black", clip: true}),
    Plot.text(marks, {x: "x", y: () => -10, text: "name", dy: -29, lineAnchor: "bottom", fill: RED, fontWeight: "bold", fontSize: 19}),
    Plot.text(["Averaging time, log(τ) (s)"], bold({frameAnchor: "bottom", dy: 68, lineAnchor: "middle", fontSize: 30})),
    Plot.text(["Time deviation (10^{-10} s)"], bold({frameAnchor: "left", dx: -98, dy: 0, rotate: -90, lineAnchor: "middle", fontSize: 29}))
  ]
});
place(tdevSvg, 744, 1460);
</script></body></html>
